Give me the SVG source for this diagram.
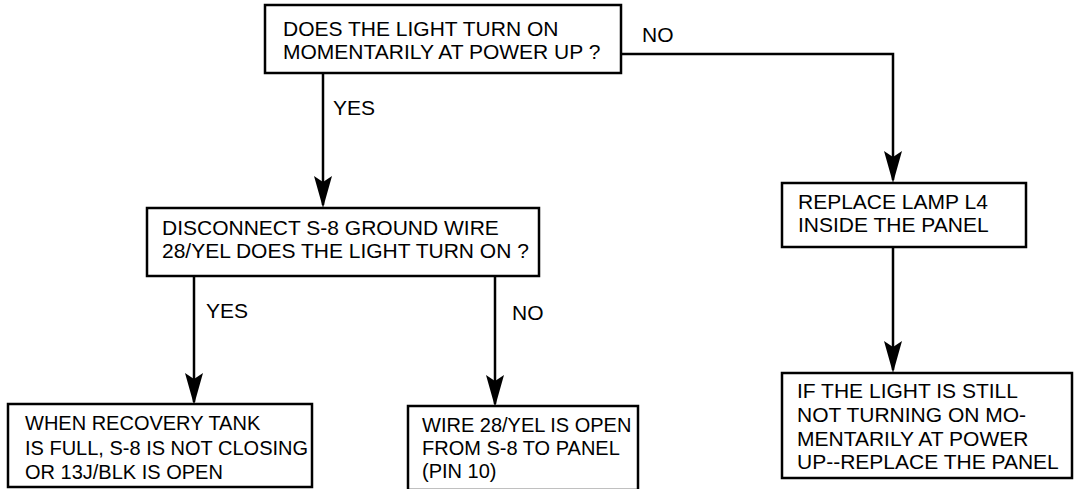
<svg xmlns="http://www.w3.org/2000/svg" width="1074" height="489" viewBox="0 0 1074 489">
<style>
.box{fill:#fff;stroke:#000;stroke-width:2.5}
.t{font-family:"Liberation Sans",Arial,Helvetica,sans-serif;font-size:21px;fill:#000}
.s{font-size:20px}
.c{fill:none;stroke:#000;stroke-width:2.5}
</style>
<defs>
<marker id="arr" viewBox="0 0 32 18" refX="29" refY="9" markerWidth="32" markerHeight="18" markerUnits="userSpaceOnUse" orient="auto">
<path d="M32,9 L0,0 L6,9 L0,18 Z" fill="#000"/>
</marker>
</defs>
<rect width="1074" height="489" fill="#fff"/>
<g id="connectors">
<path class="c" d="M323,73 V205" marker-end="url(#arr)"/>
<path class="c" d="M621,54 H893 V180" marker-end="url(#arr)"/>
<path class="c" d="M194,276 V402" marker-end="url(#arr)"/>
<path class="c" d="M495,276 V404" marker-end="url(#arr)"/>
<path class="c" d="M893,247 V370" marker-end="url(#arr)"/>
<text class="t" x="333" y="115">YES</text>
<text class="t" x="642" y="42">NO</text>
<text class="t" x="206" y="318">YES</text>
<text class="t" x="512" y="320">NO</text>
</g>
<g id="n1">
<rect class="box" x="265" y="5" width="356" height="68"/>
<text class="t" x="283" y="36">DOES THE LIGHT TURN ON</text>
<text class="t" x="283" y="59">MOMENTARILY AT POWER UP ?</text>
</g>
<g id="n2">
<rect class="box" x="147" y="208" width="392" height="68"/>
<text class="t" x="162" y="235">DISCONNECT S-8 GROUND WIRE</text>
<text class="t" x="162" y="258">28/YEL DOES THE LIGHT TURN ON ?</text>
</g>
<g id="n3">
<rect class="box" x="8" y="404" width="304" height="83"/>
<text class="t s" x="25" y="430">WHEN RECOVERY TANK</text>
<text class="t s" x="25" y="455">IS FULL, S-8 IS NOT CLOSING</text>
<text class="t s" x="25" y="479">OR 13J/BLK IS OPEN</text>
</g>
<g id="n4">
<rect class="box" x="408" y="406" width="230" height="84"/>
<text class="t s" x="422" y="432">WIRE 28/YEL IS OPEN</text>
<text class="t s" x="422" y="455">FROM S-8 TO PANEL</text>
<text class="t s" x="422" y="478">(PIN 10)</text>
</g>
<g id="n5">
<rect class="box" x="782" y="183" width="244" height="64"/>
<text class="t" x="798" y="209">REPLACE LAMP L4</text>
<text class="t" x="798" y="232">INSIDE THE PANEL</text>
</g>
<g id="n6">
<rect class="box" x="782" y="373" width="290" height="105"/>
<text class="t" x="797" y="398">IF THE LIGHT IS STILL</text>
<text class="t" x="797" y="422">NOT TURNING ON MO-</text>
<text class="t" x="797" y="446">MENTARILY AT POWER</text>
<text class="t" x="797" y="469">UP--REPLACE THE PANEL</text>
</g>
</svg>
